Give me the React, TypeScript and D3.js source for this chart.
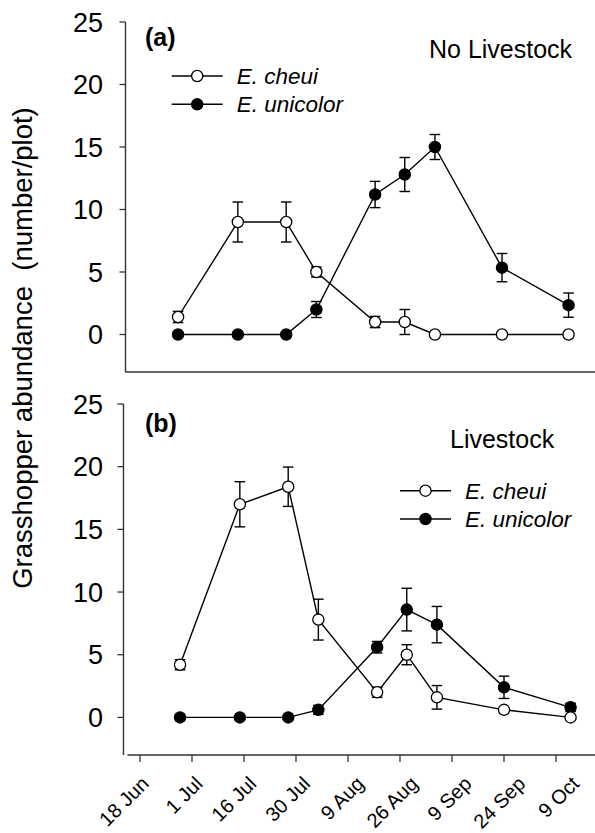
import React from "react";
import * as d3 from "d3";

const tickLabels = ["18 Jun", "1 Jul", "16 Jul", "30 Jul", "9 Aug", "26 Aug", "9 Sep", "24 Sep", "9 Oct"];
const samplePos = [0.77, 1.92, 2.85, 3.43, 4.56, 5.13, 5.71, 7.0, 8.28];
const yTicks = [0, 5, 10, 15, 20, 25];

const cheuiA = [1.4, 9.0, 9.0, 5.0, 1.0, 1.0, 0, 0, 0];
const cheuiAErr = [0.45, 1.6, 1.6, 0.4, 0.45, 1.0, 0, 0, 0];
const unicolorA = [0, 0, 0, 2.0, 11.2, 12.8, 15.0, 5.35, 2.35];
const unicolorAErr = [0, 0, 0, 0.64, 1.05, 1.36, 1.0, 1.13, 0.97];

const cheuiB = [4.2, 17.0, 18.4, 7.8, 2.0, 5.0, 1.6, 0.6, 0];
const cheuiBErr = [0.4, 1.8, 1.57, 1.63, 0.4, 0.8, 0.94, 0, 0];
const unicolorB = [0, 0, 0, 0.6, 5.6, 8.6, 7.4, 2.4, 0.8];
const unicolorBErr = [0, 0, 0, 0.36, 0.46, 1.7, 1.45, 0.89, 0.33];

const FONT = "'Liberation Sans', Arial, Helvetica, sans-serif";
const W = 595;
const H = 833;

type PanelProps = {
  top: number;
  bottom: number;
  axisX: number;
  xShift: number;
  cheui: number[];
  cheuiErr: number[];
  unicolor: number[];
  unicolorErr: number[];
  label: string;
  labelY: number;
  title: string;
  titleX: number;
  titleY: number;
  legX: number;
  legY: number;
  showXTicks: boolean;
};

function Series({ x, y, vals, errs, filled }: { x: d3.ScaleLinear<number, number>; y: d3.ScaleLinear<number, number>; vals: number[]; errs: number[]; filled: boolean }) {
  const line = d3
    .line<number>()
    .x((_, i) => x(samplePos[i]))
    .y((v) => y(v));
  return (
    <g>
      <path d={line(vals) || ""} fill="none" stroke="#000" strokeWidth={1.4} />
      {vals.map((v, i) =>
        errs[i] > 0 ? (
          <g key={"e" + i} stroke="#000" strokeWidth={1.4}>
            <line x1={x(samplePos[i])} x2={x(samplePos[i])} y1={y(v + errs[i])} y2={y(v - errs[i])} />
            <line x1={x(samplePos[i]) - 5.3} x2={x(samplePos[i]) + 5.3} y1={y(v + errs[i])} y2={y(v + errs[i])} />
            <line x1={x(samplePos[i]) - 5.3} x2={x(samplePos[i]) + 5.3} y1={y(v - errs[i])} y2={y(v - errs[i])} />
          </g>
        ) : null
      )}
      {vals.map((v, i) => (
        <circle key={"c" + i} cx={x(samplePos[i])} cy={y(v)} r={5.6} fill={filled ? "#000" : "#fff"} stroke="#000" strokeWidth={1.3} />
      ))}
    </g>
  );
}

function Panel(p: PanelProps) {
  const y = d3.scaleLinear().domain([-3, 25]).range([p.bottom, p.top]);
  const x = d3.scaleLinear().domain([0, 8]).range([140 + p.xShift, 556 + p.xShift]);
  const xt = d3.scaleLinear().domain([0, 8]).range([140, 556]);
  return (
    <g>
      {/* axes */}
      <line x1={p.axisX} x2={p.axisX} y1={p.top} y2={p.bottom} stroke="#333" strokeWidth={1.4} />
      <line x1={p.showXTicks ? p.axisX + 4 : p.axisX} x2={W + 5} y1={p.bottom} y2={p.bottom} stroke="#333" strokeWidth={1.4} />
      {yTicks.map((t) => (
        <g key={t}>
          <line x1={p.axisX - 6} x2={p.axisX} y1={y(t)} y2={y(t)} stroke="#333" strokeWidth={1.3} />
          <text x={103} y={y(t)} dy="0.36em" textAnchor="end" fontSize={27} fontFamily={FONT} fill="#000">
            {t}
          </text>
        </g>
      ))}
      {p.showXTicks &&
        tickLabels.map((lab, i) => (
          <g key={lab}>
            <line x1={xt(i)} x2={xt(i)} y1={p.bottom} y2={p.bottom + 7} stroke="#333" strokeWidth={1.3} />
            <text
              transform={`translate(${xt(i) + 10 + 1.8 * i},${p.bottom + 30}) rotate(-45)`}
              textAnchor="end"
              fontSize={20}
              fontFamily={FONT}
              fill="#000"
            >
              {lab}
            </text>
          </g>
        ))}
      <text x={145} y={p.labelY} fontSize={25} fontWeight="bold" fontFamily={FONT} fill="#000">
        {p.label}
      </text>
      <text x={p.titleX} y={p.titleY} fontSize={25} fontFamily={FONT} fill="#000">
        {p.title}
      </text>
      {/* legend */}
      {[
        { name: "E. cheui", filled: false },
        { name: "E. unicolor", filled: true },
      ].map((s, i) => (
        <g key={s.name} transform={`translate(${p.legX},${p.legY + i * 28.3})`}>
          <line x1={0} x2={51} y1={0} y2={0} stroke="#000" strokeWidth={1.4} />
          <circle cx={25.5} cy={0} r={5.6} fill={s.filled ? "#000" : "#fff"} stroke="#000" strokeWidth={1.3} />
          <text x={65} y={0} dy="0.36em" fontSize={22.5} fontStyle="italic" fontFamily={FONT} fill="#000">
            {s.name}
          </text>
        </g>
      ))}
      <Series x={x} y={y} vals={p.unicolor} errs={p.unicolorErr} filled={true} />
      <Series x={x} y={y} vals={p.cheui} errs={p.cheuiErr} filled={false} />
    </g>
  );
}

export default function App() {
  return (
    <svg width={W} height={H} style={{ position: "absolute", left: 0, top: 0, background: "#fff" }}>
      <rect x={0} y={0} width={W} height={H} fill="#fff" />
      <text
        transform={`translate(32,348) rotate(-90)`}
        textAnchor="middle"
        fontSize={27.5}
        fontFamily={FONT}
        fill="#000"
        style={{ whiteSpace: "pre" }}
      >
        {"Grasshopper abundance  (number/plot)"}
      </text>
      <Panel
        top={22}
        bottom={372}
        axisX={125.5}
        xShift={-2}
        cheui={cheuiA}
        cheuiErr={cheuiAErr}
        unicolor={unicolorA}
        unicolorErr={unicolorAErr}
        label="(a)"
        labelY={46}
        title="No Livestock"
        titleX={429}
        titleY={58.3}
        legX={171.7}
        legY={76}
        showXTicks={false}
      />
      <Panel
        top={404}
        bottom={755}
        axisX={123.5}
        xShift={0}
        cheui={cheuiB}
        cheuiErr={cheuiBErr}
        unicolor={unicolorB}
        unicolorErr={unicolorBErr}
        label="(b)"
        labelY={432}
        title="Livestock"
        titleX={450}
        titleY={448.3}
        legX={400}
        legY={490.7}
        showXTicks={true}
      />
    </svg>
  );
}
